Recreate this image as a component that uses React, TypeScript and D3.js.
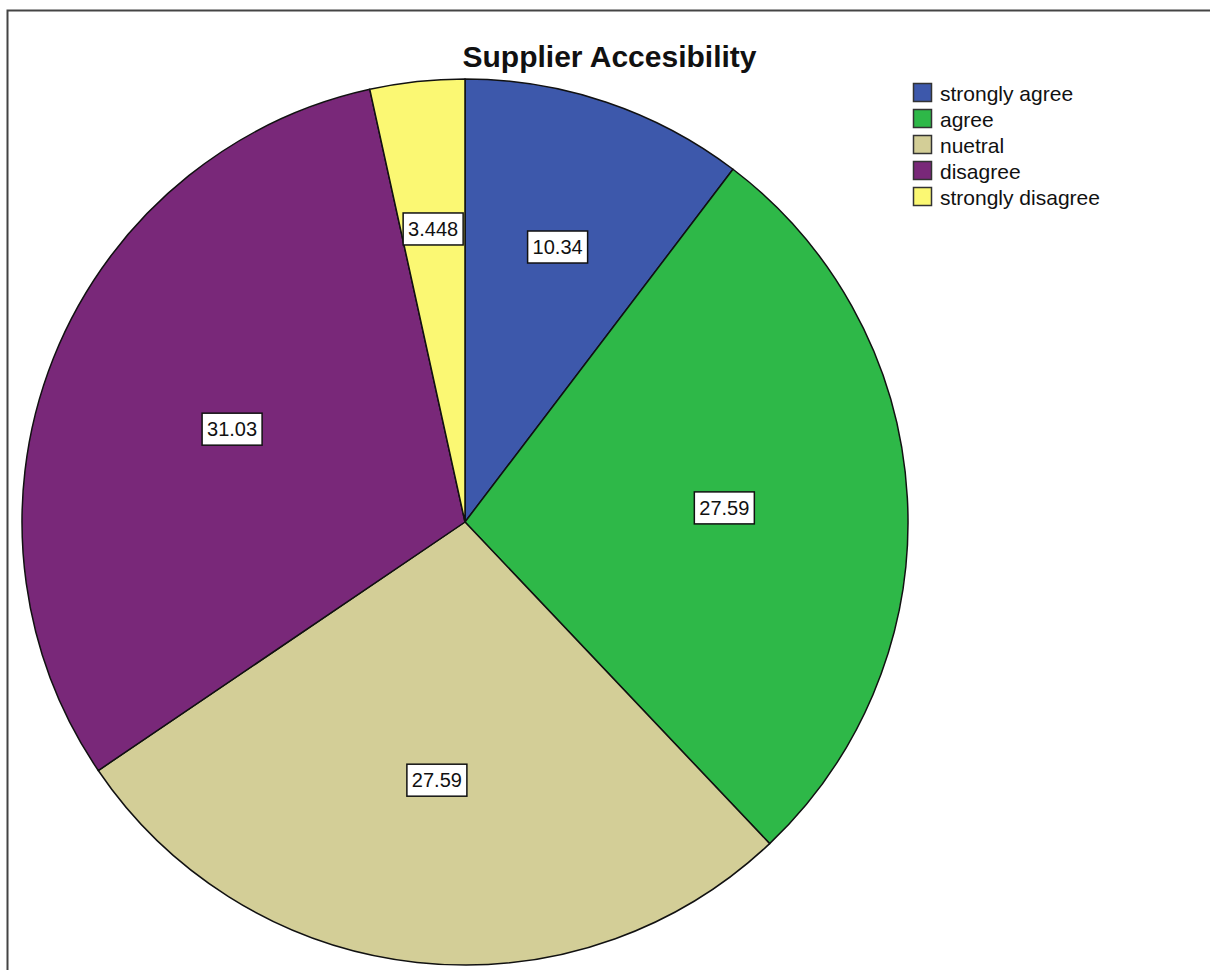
import React from "react";
import * as d3 from "d3";

const categories = ["strongly agree", "agree", "nuetral", "disagree", "strongly disagree"];
const values = [10.34, 27.59, 27.59, 31.03, 3.448];
const labels = ["10.34", "27.59", "27.59", "31.03", "3.448"];
const colors = ["#3D58AB", "#2EB848", "#D3CE97", "#792879", "#FBF873"];
const title = "Supplier Accesibility";

const W = 1210;
const H = 970;
const cx = 465;
const cy = 522;
const R = 443;
const FONT = "'Liberation Sans', Arial, sans-serif";

export default function App() {
  const pie = d3.pie<number>().sort(null).value((d) => d)(values);
  const arc = d3.arc<d3.PieArcDatum<number>>().innerRadius(0).outerRadius(R);

  const labelPos = (d: d3.PieArcDatum<number>) => {
    const theta = d.endAngle - d.startAngle;
    const rc = (4 * R * Math.sin(theta / 2)) / (3 * theta);
    const mid = (d.startAngle + d.endAngle) / 2;
    return [rc * Math.sin(mid), -rc * Math.cos(mid)];
  };

  const boxW = 60;
  const boxH = 32;

  return (
    <svg
      width={W}
      height={H}
      style={{ position: "absolute", left: 0, top: 0, background: "#fff" }}
    >
      <rect x={0} y={0} width={W} height={H} fill="#fff" />
      <rect x={7.5} y={10.5} width={W + 20} height={H + 20} fill="none" stroke="#444" strokeWidth={2} />
      <text x={609.5} y={67} textAnchor="middle" fontFamily={FONT} fontWeight="bold" fontSize={30} fill="#111">
        {title}
      </text>
      <g transform={`translate(${cx},${cy})`}>
        {pie.map((d, i) => (
          <path key={i} d={arc(d) || ""} fill={colors[i]} stroke="#111" strokeWidth={1.5} strokeLinejoin="round" />
        ))}
        {pie.map((d, i) => {
          const [x, y] = labelPos(d);
          return (
            <g key={"l" + i} transform={`translate(${x},${y})`}>
              <rect x={-boxW / 2} y={-boxH / 2} width={boxW} height={boxH} fill="#fff" stroke="#111" strokeWidth={1.5} />
              <text x={0} y={7} textAnchor="middle" fontFamily={FONT} fontSize={20} fill="#111">
                {labels[i]}
              </text>
            </g>
          );
        })}
      </g>
      <g>
        {categories.map((c, i) => (
          <g key={c} transform={`translate(913,${83 + i * 26})`}>
            <rect x={0.5} y={0.5} width={18} height={18} fill={colors[i]} stroke="#333" strokeWidth={1.5} />
            <text x={27} y={18} fontFamily={FONT} fontSize={21} fill="#111">
              {c}
            </text>
          </g>
        ))}
      </g>
    </svg>
  );
}
